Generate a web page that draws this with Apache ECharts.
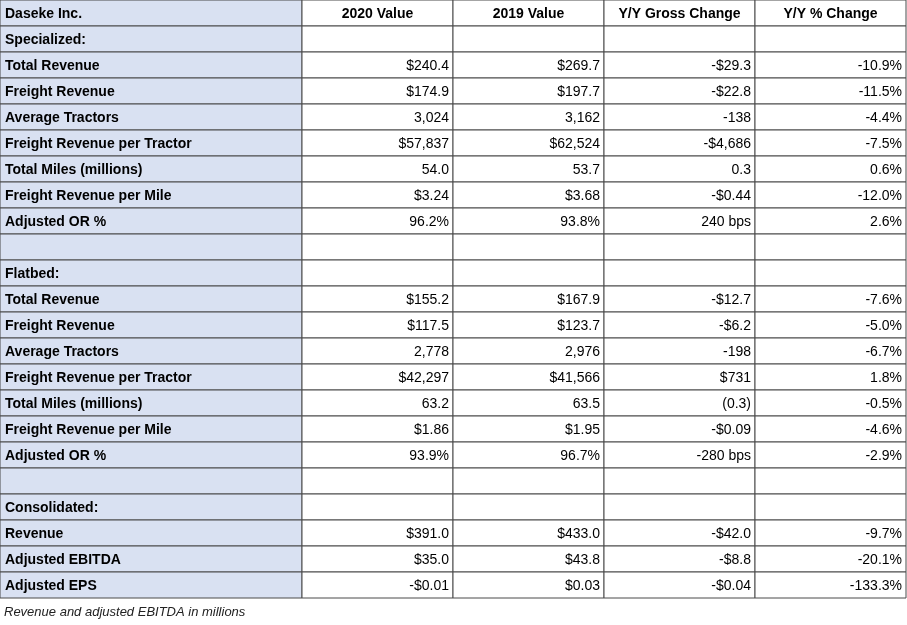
<!DOCTYPE html>
<html><head><meta charset="utf-8">
<script src="https://cdn.jsdelivr.net/npm/echarts@6/dist/echarts.min.js"></script>
<style>html,body{margin:0;padding:0;background:#fff}#c{width:907px;height:625px}</style>
</head><body><div id="c"></div>
<script>
const headers = ['Daseke Inc.', '2020 Value', '2019 Value', 'Y/Y Gross Change', 'Y/Y % Change'];
const rowLabels = ['Specialized:','Total Revenue','Freight Revenue','Average Tractors','Freight Revenue per Tractor','Total Miles (millions)','Freight Revenue per Mile','Adjusted OR %','',
 'Flatbed:','Total Revenue','Freight Revenue','Average Tractors','Freight Revenue per Tractor','Total Miles (millions)','Freight Revenue per Mile','Adjusted OR %','',
 'Consolidated:','Revenue','Adjusted EBITDA','Adjusted EPS'];
const value2020 = ['','$240.4','$174.9','3,024','$57,837','54.0','$3.24','96.2%','','','$155.2','$117.5','2,778','$42,297','63.2','$1.86','93.9%','','','$391.0','$35.0','-$0.01'];
const value2019 = ['','$269.7','$197.7','3,162','$62,524','53.7','$3.68','93.8%','','','$167.9','$123.7','2,976','$41,566','63.5','$1.95','96.7%','','','$433.0','$43.8','$0.03'];
const grossChange = ['','-$29.3','-$22.8','-138','-$4,686','0.3','-$0.44','240 bps','','','-$12.7','-$6.2','-198','$731','(0.3)','-$0.09','-280 bps','','','-$42.0','-$8.8','-$0.04'];
const pctChange = ['','-10.9%','-11.5%','-4.4%','-7.5%','0.6%','-12.0%','2.6%','','','-7.6%','-5.0%','-6.7%','1.8%','-0.5%','-4.6%','-2.9%','','','-9.7%','-20.1%','-133.3%'];
const caption = 'Revenue and adjusted EBITDA in millions';

const rows = ['h'].concat(rowLabels.map((_, i) => 'r' + i));
const cols = ['a','b','c','d','e','f'];
const data = [];
headers.forEach((h, i) => data.push([i === 0 ? 0 : i + 1, 0, h, 'head']));
rowLabels.forEach((l, r) => {
  data.push([0, r + 1, l, 'label']);
  [value2020, value2019, grossChange, pctChange].forEach((arr, k) => data.push([k + 2, r + 1, arr[r], 'val']));
});
const chart = echarts.init(document.getElementById('c'));
chart.setOption({
  animation: false,
  grid: {left: 0, right: 1, top: 0, height: 598},
  xAxis: {type: 'category', data: cols, show: false},
  yAxis: {type: 'category', data: rows, inverse: true, show: false},
  graphic: [{type: 'text', left: 4, top: 606, style: {text: caption, font: 'italic 13px "Liberation Sans"', fill: '#222'}}],
  series: [{
    type: 'custom',
    data: data,
    renderItem: function (params, api) {
      const c = api.value(0), r = api.value(1), kind = data[params.dataIndex][3], txt = data[params.dataIndex][2];
      const bw = api.size([1, 1]);
      const p = api.coord([c, r]);
      let x0 = p[0] - bw[0] / 2, w = bw[0];
      if (c === 0) w = bw[0] * 2;
      const y0 = p[1] - bw[1] / 2, h = bw[1];
      const blue = (c === 0);
      const children = [{type: 'rect', shape: {x: x0, y: y0, width: w, height: h},
        style: {fill: blue ? '#D9E1F2' : '#fff', stroke: '#4a4a4a', lineWidth: 1}}];
      let tx, align;
      if (kind === 'head') { if (c === 0) { tx = x0 + 5; align = 'left'; } else { tx = x0 + w / 2; align = 'center'; } }
      else if (kind === 'label') { tx = x0 + 5; align = 'left'; }
      else { tx = x0 + w - 4; align = 'right'; }
      children.push({type: 'text', style: {x: tx, y: y0 + h / 2 + 1, text: txt, align: align, verticalAlign: 'middle',
        font: ((kind === 'val') ? '' : 'bold ') + '14px "Liberation Sans"', fill: '#000'}});
      return {type: 'group', children: children};
    }
  }]
});
</script></body></html>
